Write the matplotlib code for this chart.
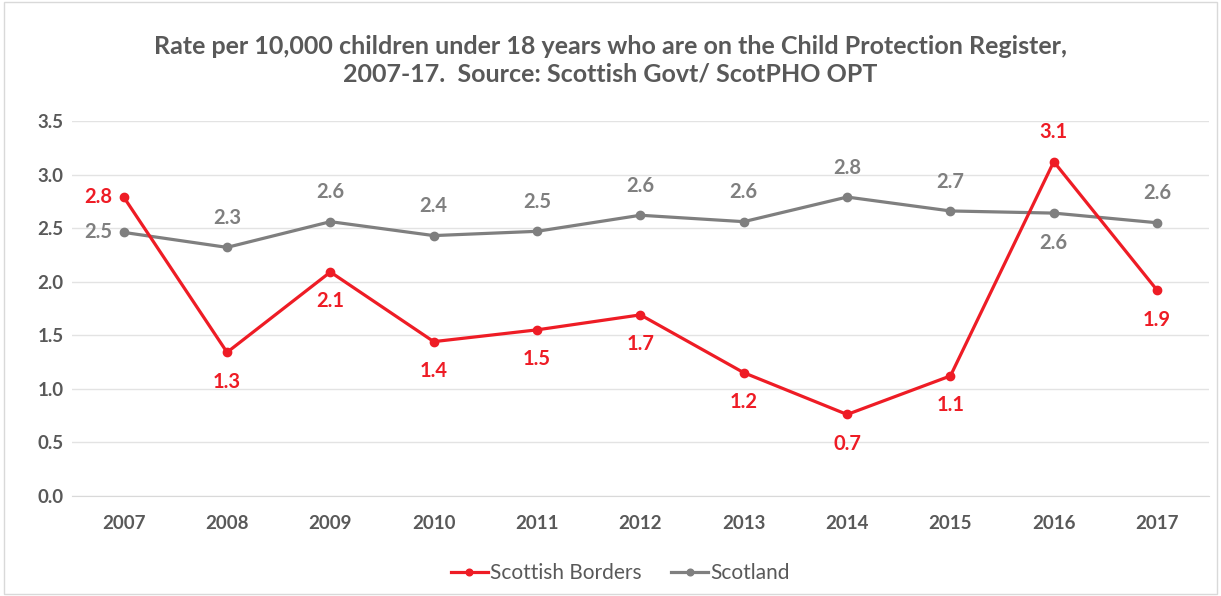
import matplotlib.pyplot as plt

years = ['2007', '2008', '2009', '2010', '2011', '2012', '2013', '2014', '2015', '2016', '2017']
borders = [2.79, 1.34, 2.09, 1.44, 1.55, 1.69, 1.15, 0.76, 1.12, 3.12, 1.92]
scotland = [2.46, 2.32, 2.56, 2.43, 2.47, 2.62, 2.56, 2.79, 2.66, 2.64, 2.55]
borders_lbl = ['2.8', '1.3', '2.1', '1.4', '1.5', '1.7', '1.2', '0.7', '1.1', '3.1', '1.9']
scotland_lbl = ['2.5', '2.3', '2.6', '2.4', '2.5', '2.6', '2.6', '2.8', '2.7', '2.6', '2.6']
# label position per point: 'l' left, 'a' above, 'b' below
borders_pos = ['l', 'b', 'b', 'b', 'b', 'b', 'b', 'b', 'b', 'a', 'b']
scotland_pos = ['l', 'a', 'a', 'a', 'a', 'a', 'a', 'a', 'a', 'b', 'a']

plt.rcParams['font.family'] = ['Lato', 'DejaVu Sans']
red = '#EE1C25'
grey = '#7F7F7F'
txt = '#595959'

fig = plt.figure(figsize=(12.21, 5.96), dpi=100)
ax = fig.add_axes([0.059, 0.168, 0.931, 0.629])
x = list(range(len(years)))

ax.plot(x, borders, color=red, lw=2.3, marker='o', ms=6, label='Scottish Borders', zorder=3)
ax.plot(x, scotland, color=grey, lw=2.3, marker='o', ms=6, label='Scotland', zorder=2)

offs = {'l': (-8, 0, 'right', 'center'), 'a': (0, 14, 'center', 'bottom'), 'b': (0, -14, 'center', 'top')}
for vals, lbls, pos, col in [(borders, borders_lbl, borders_pos, red), (scotland, scotland_lbl, scotland_pos, grey)]:
    for i in x:
        dx, dy, ha, va = offs[pos[i]]
        ax.annotate(lbls[i], (i, vals[i]), xytext=(dx, dy), textcoords='offset points',
                    ha=ha, va=va, color=col, fontsize=14.5, fontweight='bold')

ax.set_xlim(-0.5, len(years) - 0.5)
ax.set_ylim(0, 3.5)
ax.set_yticks([0, 0.5, 1.0, 1.5, 2.0, 2.5, 3.0, 3.5])
ax.set_yticklabels(['%.1f' % v for v in ax.get_yticks()])
ax.set_xticks(x)
ax.set_xticklabels(years)
ax.tick_params(length=0, labelsize=13.5, labelcolor=txt)
ax.tick_params(axis='x', pad=14)
ax.tick_params(axis='y', pad=6)
for lab in ax.get_xticklabels() + ax.get_yticklabels():
    lab.set_fontweight('bold')
ax.grid(axis='y', color='#E3E3E3', lw=1)
ax.set_axisbelow(True)
for s in ['top', 'right', 'left']:
    ax.spines[s].set_visible(False)
ax.spines['bottom'].set_color('#D9D9D9')

fig.text(0.5, 0.899, 'Rate per 10,000 children under 18 years who are on the Child Protection Register,\n'
         '2007-17.  Source: Scottish Govt/ ScotPHO OPT', ha='center', va='center',
         fontsize=18, fontweight='bold', color=txt, linespacing=1.2)

fig.legend(loc='center', bbox_to_anchor=(0.508, 0.038), ncol=2, frameon=False,
           fontsize=15, labelcolor=txt, handlelength=1.8, handletextpad=0.1, columnspacing=1.4,
           markerscale=0.8)

border = plt.Rectangle((0.003, 0.003), 0.994, 0.994, transform=fig.transFigure,
                       fill=False, edgecolor='#D9D9D9', lw=1)
fig.patches.append(border)

fig.savefig('out.png', dpi=100)
